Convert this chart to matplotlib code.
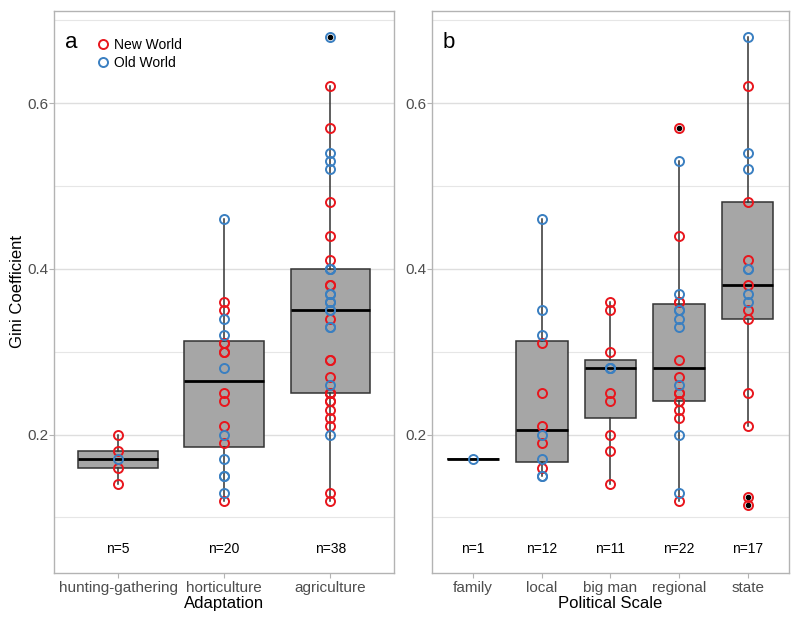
import matplotlib
matplotlib.use('Agg')
import matplotlib.pyplot as plt
from matplotlib.lines import Line2D

plt.rcParams['font.family'] = ['Liberation Sans', 'DejaVu Sans']

RED = '#E8161D'
BLUE = '#3A7FC1'
BOX_FILL = '#A6A6A6'
DARK = '#333333'

# panel a: Adaptation
adapt_labels = ['hunting-gathering', 'horticulture', 'agriculture']
hunt_new = [0.20, 0.18, 0.16, 0.14]
hunt_old = [0.17]
hort_new = [0.36, 0.35, 0.31, 0.31, 0.30, 0.30, 0.25, 0.24, 0.21, 0.19, 0.12]
hort_old = [0.46, 0.34, 0.32, 0.28, 0.20, 0.17, 0.15, 0.15, 0.13]
agri_new = [0.62, 0.57, 0.48, 0.44, 0.41, 0.38, 0.38, 0.34, 0.29, 0.29, 0.27,
            0.25, 0.25, 0.25, 0.24, 0.24, 0.23, 0.22, 0.21, 0.13, 0.12]
agri_old = [0.68, 0.54, 0.53, 0.52, 0.40, 0.40, 0.40, 0.37, 0.37, 0.36, 0.36,
            0.35, 0.35, 0.33, 0.33, 0.26, 0.20]

# panel b: Political Scale
pol_labels = ['family', 'local', 'big man', 'regional', 'state']
family_new = []
family_old = [0.17]
local_new = [0.31, 0.25, 0.21, 0.19, 0.16]
local_old = [0.46, 0.35, 0.32, 0.20, 0.17, 0.15, 0.15]
bigman_new = [0.36, 0.35, 0.30, 0.25, 0.24, 0.20, 0.18, 0.14]
bigman_old = [0.28, 0.28, 0.28]
regional_new = [0.57, 0.44, 0.36, 0.36, 0.29, 0.27, 0.25, 0.25, 0.24, 0.24,
                0.23, 0.22, 0.12]
regional_old = [0.53, 0.37, 0.35, 0.35, 0.34, 0.33, 0.26, 0.20, 0.13]
state_new = [0.62, 0.48, 0.41, 0.38, 0.35, 0.34, 0.25, 0.21, 0.125, 0.115]
state_old = [0.68, 0.54, 0.52, 0.40, 0.40, 0.37, 0.36]

adapt_groups = [(hunt_new, hunt_old), (hort_new, hort_old), (agri_new, agri_old)]
pol_groups = [(family_new, family_old), (local_new, local_old),
              (bigman_new, bigman_old), (regional_new, regional_old),
              (state_new, state_old)]

N_LABEL_Y = 0.062


def draw_panel(ax, groups, labels, xlabel, letter):
    data = [new + old for new, old in groups]
    pos = list(range(1, len(groups) + 1))
    ax.boxplot(data, positions=pos, widths=0.75, patch_artist=True,
               showcaps=False, whis=1.5,
               boxprops=dict(facecolor=BOX_FILL, edgecolor=DARK, linewidth=1.1),
               medianprops=dict(color='black', linewidth=2),
               whiskerprops=dict(color=DARK, linewidth=1.1),
               flierprops=dict(marker='o', markerfacecolor='black',
                               markeredgecolor='black', markersize=3),
               zorder=2)
    for p, (new, old) in zip(pos, groups):
        ax.plot([p] * len(new), new, 'o', ms=6.5, mfc='none', mec=RED,
                mew=1.4, zorder=3)
        ax.plot([p] * len(old), old, 'o', ms=6.5, mfc='none', mec=BLUE,
                mew=1.4, zorder=3)
        ax.text(p, N_LABEL_Y, 'n=%d' % (len(new) + len(old)), ha='center',
                va='center', fontsize=10, color='black')

    ax.set_xlim(0.4, len(groups) + 0.6)
    ax.set_ylim(0.033, 0.711)
    ax.set_xticks(pos)
    ax.set_xticklabels(labels)
    ax.set_yticks([0.2, 0.4, 0.6])
    ax.set_yticklabels(['0.2', '0.4', '0.6'])
    ax.set_yticks([0.1, 0.3, 0.5, 0.7], minor=True)
    ax.yaxis.grid(True, which='major', color='#DEDEDE', linewidth=1.0)
    ax.yaxis.grid(True, which='minor', color='#E6E6E6', linewidth=0.8)
    ax.set_axisbelow(True)
    ax.tick_params(axis='both', which='major', length=3.5, color='#B3B3B3',
                   labelsize=11, labelcolor='#4D4D4D', pad=2)
    ax.tick_params(axis='y', which='major', pad=0.8)
    ax.tick_params(axis='y', which='minor', length=0)
    for s in ax.spines.values():
        s.set_color('#B3B3B3')
        s.set_linewidth(1.0)
    ax.set_xlabel(xlabel, fontsize=12, labelpad=1)
    ax.text(0.03, 0.935, letter, transform=ax.transAxes, fontsize=16,
            ha='left', va='baseline')


fig = plt.figure(figsize=(8, 6.21), dpi=100)
ax1 = fig.add_axes([0.068, 0.0773, 0.4245, 0.905])
ax2 = fig.add_axes([0.54, 0.0773, 0.446, 0.905])

draw_panel(ax1, adapt_groups, adapt_labels, 'Adaptation', 'a')
draw_panel(ax2, pol_groups, pol_labels, 'Political Scale', 'b')
ax1.set_ylabel('Gini Coefficient', fontsize=12, labelpad=1.5)

handles = [Line2D([], [], marker='o', ls='none', ms=6.5, mfc='none', mec=RED,
                  mew=1.4, label='New World'),
           Line2D([], [], marker='o', ls='none', ms=6.5, mfc='none', mec=BLUE,
                  mew=1.4, label='Old World')]
ax1.legend(handles=handles, loc='upper left', bbox_to_anchor=(0.11, 0.96),
           frameon=False, fontsize=10, handlelength=1.0, handletextpad=0.3,
           labelspacing=0.3, borderaxespad=0, borderpad=0.3)

fig.savefig('out.png', dpi=100)
